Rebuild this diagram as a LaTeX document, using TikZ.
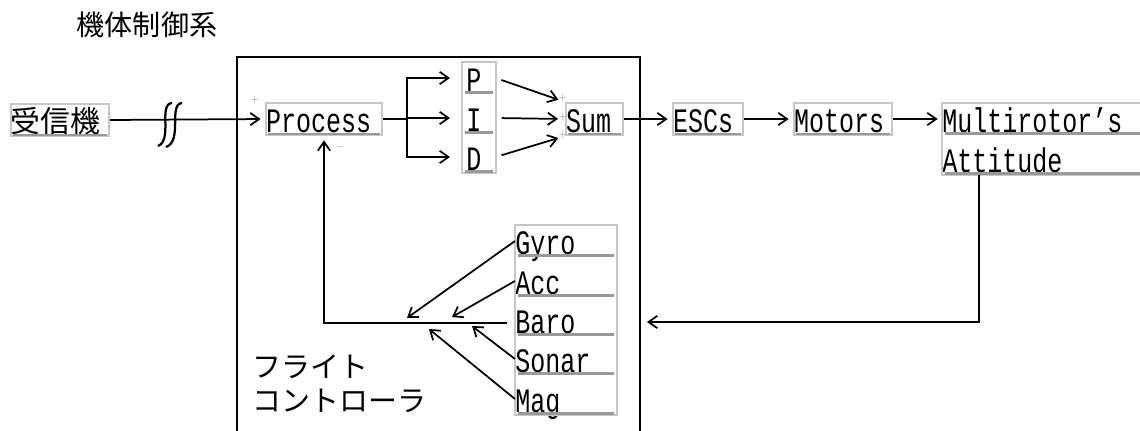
\documentclass[tikz,border=0pt]{standalone}
\usepackage{fontspec}
\newfontfamily\JpFont{Noto Sans CJK JP}
\newfontfamily\LatFont[FakeStretch=0.73]{Liberation Mono}
\usetikzlibrary{arrows.meta,calc}
\definecolor{BoxClr}{rgb}{0.78,0.78,0.78}
\definecolor{UlineClr}{rgb}{0.6,0.6,0.6}
\definecolor{SignClr}{rgb}{0.55,0.55,0.55}

\tikzset{
  txt/.style={font=\LatFont\fontsize{19.5}{19.5}\selectfont, inner sep=0pt, anchor=base west,
    align=left, text height=0.58cm, text depth=0.06cm},
  blk/.style={txt, draw=BoxClr, line width=0.04cm},
  grp/.style={draw=BoxClr, line width=0.04cm},
  uline/.style={draw=UlineClr, line width=0.05cm},
  wire/.style={line width=0.035cm},
  arr/.style={wire, -{Straight Barb[length=5pt,width=7pt]}, shorten >=2.5pt},
  sign/.style={font=\fontsize{5}{5}\selectfont, text=SignClr, inner sep=0pt},
  jp/.style={font=\JpFont\fontsize{16.5}{19.3}\selectfont, inner sep=0pt}
}

\begin{document}
\begin{tikzpicture}[x=0.02cm,y=-0.02cm]
\useasboundingbox (0,0) rectangle (1140,430);
\clip (0,0) rectangle (1140,430);

\node[jp, font=\JpFont\fontsize{16}{16}\selectfont] (title) at (147,25) {機体制御系};

% flight controller frame
\draw[line width=0.04cm] (237,440) -- (237,57) -- (640,57) -- (640,440);
\node[jp, anchor=west, align=left] (fc) at (252,384) {フライト\\コントローラ};

% main row
\node[blk, font=\JpFont\fontsize{17}{17}\selectfont, text width=1.96cm,
  text height=0.56cm, text depth=0.08cm] (rx) at (10,132) {受信機};
\node[blk, text width=2.32cm] (proc) at (265,132) {Process};
\node[blk, text width=1.14cm] (sum) at (565,132) {Sum};
\node[blk, text width=1.4cm] (esc) at (672,132) {ESCs};
\node[blk, text width=1.96cm] (mot) at (793,132) {Motors};
\node[txt, text width=4.2cm] (mr1) at (942,132) {Multirotor’s};
\node[txt, text width=4.2cm] (mr2) at (942,172) {Attitude};
\draw[grp] (mr1.north west) rectangle (mr2.south east);

% P, I, D
\node[txt, text width=0.5cm, inner xsep=0.08cm] (p) at (462,91) {P};
\node[txt, text width=0.5cm, inner xsep=0.08cm] (i) at (462,131) {I};
\node[txt, text width=0.5cm, inner xsep=0.08cm] (d) at (462,170) {D};
\draw[grp] (p.north west) rectangle (d.south east);

% sensors
\node[txt, text width=2.02cm] (gyro) at (515,254) {Gyro};
\node[txt, text width=2.02cm] (acc) at (515,294) {Acc};
\node[txt, text width=2.02cm] (baro) at (515,333) {Baro};
\node[txt, text width=2.02cm] (sonar) at (515,372) {Sonar};
\node[txt, text width=2.02cm] (mag) at (515,412) {Mag};
\draw[grp] (gyro.north west) rectangle (mag.south east);

\foreach \n in {rx,proc,sum,esc,mot,mr1,mr2,p,i,d,gyro,acc,baro,sonar,mag}
  \draw[uline] ($(\n.south west)+(3,-2)$) -- ($(\n.south east)+(-3,-2)$);

% signs
\node[sign] (pplus) at (255,100) {$+$};
\node[sign] (pminus) at (340,147) {$-$};
\node[sign] (splus1) at (563,98) {$+$};
\node[sign] (splus2) at (563,117) {$+$};
\node[sign] (splus3) at (563,135) {$+$};

% connectors
\draw[arr] (rx.east) -- (proc.west);
\draw[line width=0.045cm] (172,103) .. controls (158,104) and (173,140) .. (158,146);
\draw[line width=0.045cm] (182,103) .. controls (168,104) and (183,141) .. (166,147);

\coordinate (split) at ($(proc.east)+(24,0)$);
\draw[wire] (proc.east) -- (split);
\foreach \n in {p,i,d}
  \draw[arr, shorten >=0.24cm] (split) |- (\n.west);
\foreach \n/\a in {p/north west,i/west,d/south west}
  \draw[arr, shorten <=0.12cm, shorten >=0.14cm] (\n.east) -- (sum.\a);

\draw[arr] (sum.east) -- (esc.west);
\draw[arr] (esc.east) -- (mot.west);
\draw[arr] (mot.east) -- (mr1.west);

\coordinate (fb) at (647,322);
\draw[arr, shorten >=0pt] ($(mr2.south west)+(37,0)$) |- (fb);

\draw[arr] ($(baro.west)+(-8,3)$) -| (proc.south);
\coordinate (in-gyro) at (407,318);
\coordinate (in-acc) at (452,317);
\coordinate (in-sonar) at (472,326);
\coordinate (in-mag) at (429,329);
\foreach \s in {gyro,acc,sonar,mag}
  \draw[arr, shorten >=0pt] (\s.west) -- (in-\s);

\end{tikzpicture}
\end{document}
